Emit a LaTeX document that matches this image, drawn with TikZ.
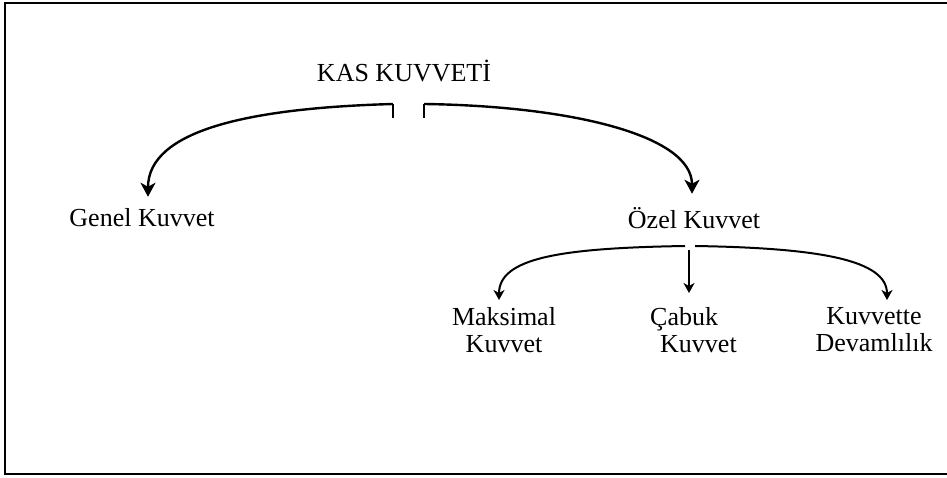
\documentclass[tikz,border=0pt]{standalone}
\usepackage{fontspec}
\setmainfont{Liberation Serif}
\usetikzlibrary{arrows.meta,calc}
\begin{document}
\begin{tikzpicture}[x=1pt,y=-1pt,
  lbl/.style={inner sep=0pt,font=\fontsize{26}{27}\selectfont},
  bigcurve/.style={line width=2.4pt,-{Stealth[length=14pt,width=15pt,inset=4pt]}},
  smallcurve/.style={line width=2pt,-{Stealth[length=10pt,width=11pt,inset=3pt]}},
  tick/.style={line width=2.2pt}]
\useasboundingbox (0,0) rectangle (947,478);
\draw[line width=1.4pt] (5,3) rectangle (965,474);
% texts
\node[lbl,anchor=base] (kas) at (404,82) {KAS KUVVETİ};
\node[lbl,anchor=base] (genel) at (142,227) {Genel Kuvvet};
\node[lbl,anchor=base] (ozel) at (694,229) {Özel Kuvvet};
\node[lbl,anchor=north,align=center] (maks) at (504,307) {Maksimal\\Kuvvet};
\node[lbl,anchor=north west,align=left] (cabuk) at (650,307) {Çabuk\\\hspace*{10pt}Kuvvet};
\node[lbl,anchor=north,align=center] (devam) at (874,307) {Kuvvette\\Devamlılık};
% start points
\coordinate (tlb) at (393,118);
\coordinate (tl) at (393,104);
\coordinate (trb) at (424,118);
\coordinate (tr) at (424,104);
\coordinate (ol) at (685,246);
\coordinate (or) at (695,246);
\coordinate (om) at (689,250);
% top level
\draw[tick] (tlb) -- (tl);
\draw[tick] (trb) -- (tr);
\draw[bigcurve] (tl) .. controls (250,108) and (148,130) .. ($(genel.north)+(6,-12)$);
\draw[bigcurve] (tr) .. controls (570,106) and (692,135) .. ($(ozel.north)+(-2,-14)$);
% second level
\draw[smallcurve] (ol) .. controls (560,248) and (499,258) .. ($(maks.north)+(-5,-7)$);
\draw[smallcurve] (om) -- ($(cabuk.north west)+(39,-14)$);
\draw[smallcurve] (or) .. controls (820,248) and (887,260) .. ($(devam.north)+(13,-7)$);
\end{tikzpicture}
\end{document}
